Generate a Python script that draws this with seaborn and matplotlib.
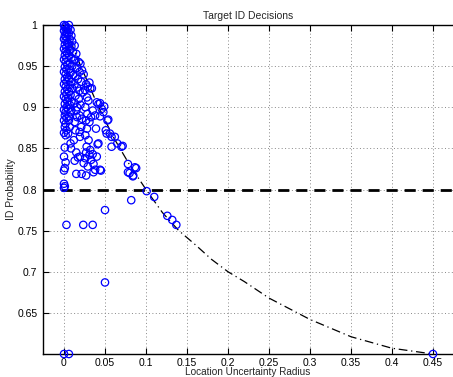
import numpy as np
import pandas as pd
import matplotlib
matplotlib.use("Agg")
import matplotlib.pyplot as plt
import seaborn as sns

# ---- data ----
col_a_x = [0.000,0.002,0.001,0.003,0.000,0.002,0.004,0.001,0.003,0.000,0.002,0.004,0.001,0.003,0.000,0.002,0.004,0.001,0.003,0.000,
           0.002,0.004,0.001,0.003,0.000,0.002,0.004,0.001,0.003,0.000,0.002,0.004,0.001,0.003,0.000,0.002,0.004,0.001,0.003,0.000,
           0.002,0.001,0.003,0.000,0.002,0.001,0.003,0.000,0.002,0.001,0.000,0.002,0.001,0.000,0.000,0.001,0.000]
col_a_y = [1.000,0.999,0.997,0.995,0.993,0.991,0.989,0.987,0.985,0.983,0.981,0.978,0.976,0.973,0.971,0.968,0.966,0.963,0.960,0.958,
           0.955,0.952,0.949,0.946,0.943,0.940,0.937,0.934,0.931,0.928,0.925,0.922,0.919,0.916,0.913,0.910,0.907,0.904,0.900,0.897,
           0.894,0.890,0.887,0.884,0.880,0.876,0.872,0.869,0.866,0.851,0.840,0.833,0.826,0.823,0.807,0.804,0.802]

col_b_x = [0.006,0.005,0.008,0.006,0.009,0.007,0.010,0.006,0.009,0.007,0.011,0.006,0.009,0.012,0.007,0.010,0.006,0.008,0.011,0.006,
           0.009,0.007,0.010,0.006,0.008,0.005,0.009,0.007,0.005,0.008,0.006,0.009,0.007,0.005,0.008,0.0085,0.006]
col_b_y = [1.000,0.996,0.994,0.990,0.987,0.983,0.980,0.977,0.974,0.970,0.967,0.963,0.960,0.957,0.953,0.950,0.946,0.942,0.939,0.935,
           0.931,0.927,0.923,0.919,0.915,0.911,0.907,0.903,0.898,0.894,0.889,0.896,0.876,0.868,0.856,0.850,0.884]

col_c_x = [0.013,0.015,0.014,0.018,0.020,0.016,0.019,0.022,0.014,0.017,0.021,0.024,0.013,0.016,0.019,0.023,0.014,0.018,0.013,0.016,
           0.020,0.015,0.019,0.016,0.022,0.013,0.021,0.019,0.0195,0.014,0.012,0.015,0.017,0.0195,0.015,0.0215,0.013,0.024]
col_c_y = [0.975,0.965,0.958,0.955,0.953,0.948,0.943,0.945,0.938,0.934,0.931,0.940,0.928,0.924,0.920,0.918,0.914,0.910,0.905,0.900,
           0.903,0.896,0.890,0.888,0.886,0.882,0.876,0.870,0.864,0.872,0.860,0.845,0.839,0.840,0.819,0.819,0.835,0.832]

col_d_x = [0.0256,0.027,0.029,0.031,0.032,0.034,0.0297,0.028,0.026,0.0285,0.027,0.031,0.033,0.035,0.038,0.040,0.042,0.044,0.046,0.048,
           0.049,0.044,0.039,0.028,0.026,0.030,0.0276,0.032,0.035,0.027,0.042,0.041,0.029,0.027,0.036,0.038,0.044,0.036,0.045,0.026,
           0.033,0.031,0.040]
col_d_y = [0.921,0.928,0.925,0.930,0.923,0.923,0.908,0.912,0.900,0.892,0.884,0.882,0.888,0.896,0.890,0.906,0.904,0.905,0.898,0.894,
           0.901,0.889,0.874,0.874,0.866,0.860,0.852,0.848,0.843,0.845,0.856,0.855,0.828,0.817,0.831,0.824,0.824,0.821,0.823,0.838,
           0.836,0.842,0.840]

col_e_x = [0.051,0.053,0.054,0.052,0.056,0.058,0.062,0.065,0.058,0.070,0.0715,0.078,0.080,0.0845,0.0865,0.088,0.078,0.084]
col_e_y = [0.872,0.884,0.885,0.868,0.868,0.864,0.864,0.856,0.852,0.852,0.853,0.831,0.820,0.817,0.827,0.826,0.821,0.816]

outlier_x = [0.003,0.0235,0.035,0.050,0.050,0.082,0.1008,0.110,0.126,0.132,0.137,0.000,0.006,0.450]
outlier_y = [0.757,0.757,0.757,0.775,0.687,0.787,0.798,0.791,0.768,0.763,0.757,0.600,0.600,0.600]

radius = col_a_x + col_b_x + col_c_x + col_d_x + col_e_x + outlier_x
id_prob = col_a_y + col_b_y + col_c_y + col_d_y + col_e_y + outlier_y

curve_x = [0.0, 0.02, 0.04, 0.06, 0.08, 0.10, 0.12, 0.14, 0.16, 0.18, 0.20, 0.22, 0.25, 0.30, 0.35, 0.40, 0.45]
curve_y = [1.0, 0.951, 0.905, 0.864, 0.830, 0.800, 0.772, 0.750, 0.733, 0.715, 0.700, 0.688, 0.668, 0.642, 0.621, 0.607, 0.600]

threshold = 0.8
x_ticks = [0, 0.05, 0.1, 0.15, 0.2, 0.25, 0.3, 0.35, 0.4, 0.45]
x_tick_labels = ["0", "0.05", "0.1", "0.15", "0.2", "0.25", "0.3", "0.35", "0.4", "0.45"]
y_ticks = [0.65, 0.7, 0.75, 0.8, 0.85, 0.9, 0.95, 1.0]
y_tick_labels = ["0.65", "0.7", "0.75", "0.8", "0.85", "0.9", "0.95", "1"]

df = pd.DataFrame({"radius": radius, "prob": id_prob})
curve_df = pd.DataFrame({"x": curve_x, "y": curve_y})

sns.set_style("white")
plt.rcParams["font.family"] = ["Liberation Sans", "DejaVu Sans"]

fig = plt.figure(figsize=(4.53, 3.77), dpi=100)
ax = fig.add_axes([43/453, 23/377, 410/453, 329/377])

ax.grid(True, color="#888888", linestyle=(0, (1, 2.5)), linewidth=0.7)
ax.set_axisbelow(True)

sns.lineplot(data=curve_df, x="x", y="y", ax=ax, color="black",
             linewidth=0.9, linestyle=(0, (7, 3, 1, 3)), zorder=2)
ax.axhline(threshold, color="black", linewidth=2.0, linestyle=(0, (4, 2.5)), zorder=2)
sns.scatterplot(data=df, x="radius", y="prob", ax=ax, marker="o", s=28,
                facecolor="none", edgecolor="#0000ff", linewidth=0.9,
                zorder=3, clip_on=False)

ax.set_xlim(-0.0256, 0.4744)
ax.set_ylim(0.6, 1.0)
ax.set_xticks(x_ticks)
ax.set_xticklabels(x_tick_labels)
ax.set_yticks(y_ticks)
ax.set_yticklabels(y_tick_labels)
ax.tick_params(direction="in", length=4, width=0.8, labelsize=7.5,
               top=True, bottom=True, left=True, right=False, colors="black", pad=4)
ax.tick_params(axis="x", pad=3)
for s in ["left", "bottom", "top"]:
    ax.spines[s].set_color("black")
    ax.spines[s].set_linewidth(1.0)
ax.spines["right"].set_visible(False)

ax.set_title("Target ID Decisions", fontsize=7.5, pad=4)
ax.set_xlabel("Location Uncertainty Radius", fontsize=7.2, labelpad=-0.5)
ax.set_ylabel("ID Probability", fontsize=7.5, labelpad=1)

fig.savefig("out.png", dpi=100)
